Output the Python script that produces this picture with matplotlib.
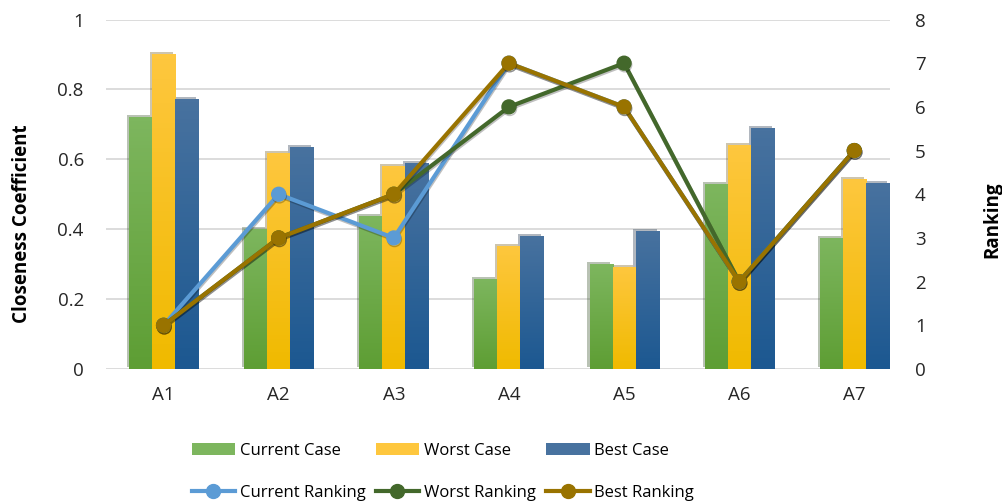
import matplotlib.pyplot as plt
import matplotlib.patheffects as pe
from matplotlib.patches import Patch
from matplotlib.lines import Line2D
import numpy as np

plt.rcParams['font.family'] = ['Open Sans', 'DejaVu Sans']

categories = ['A1', 'A2', 'A3', 'A4', 'A5', 'A6', 'A7']

current_case = [0.721, 0.400, 0.438, 0.258, 0.300, 0.529, 0.375]
worst_case = [0.901, 0.618, 0.581, 0.352, 0.292, 0.641, 0.544]
best_case = [0.773, 0.635, 0.589, 0.381, 0.395, 0.690, 0.533]

current_rank = [1, 4, 3, 7, 6, 2, 5]
worst_rank = [1, 3, 4, 6, 7, 2, 5]
best_rank = [1, 3, 4, 7, 6, 2, 5]

bar_names = ['Current Case', 'Worst Case', 'Best Case']
line_names = ['Current Ranking', 'Worst Ranking', 'Best Ranking']
bar_colors = [('#7db65e', '#5e9e34'), ('#fec73e', '#f0ba00'), ('#48729f', '#1c5891')]
line_colors = ['#5b9bd5', '#43682b', '#997300']

fig = plt.figure(figsize=(10.03, 5.04), dpi=100)
ax = fig.add_axes([106 / 1003, 135 / 504, 784 / 1003, 349.5 / 504])
ax2 = ax.twinx()

x = np.arange(len(categories))
w = 0.2
shadow = [pe.SimplePatchShadow(offset=(-1.5, 1.5), alpha=0.35, rho=0.45), pe.Normal()]

for i, vals in enumerate([current_case, worst_case, best_case]):
    top, bot = bar_colors[i]
    bars = ax.bar(x + (i - 1) * w, vals, w, color=top, zorder=2, path_effects=shadow)
    # vertical gradient in each bar
    grad = np.linspace(0, 1, 64).reshape(-1, 1)
    c1 = np.array(plt.matplotlib.colors.to_rgb(top))
    c2 = np.array(plt.matplotlib.colors.to_rgb(bot))
    img = c1[None, None, :] * (1 - grad[..., None]) + c2[None, None, :] * grad[..., None]
    for b in bars:
        im = ax.imshow(img, extent=[b.get_x(), b.get_x() + b.get_width(), 0, b.get_height()],
                       aspect='auto', zorder=2.5, origin='upper')
        im.set_clip_path(b)

ax.set_xlim(-0.5, 6.31)
ax.set_ylim(0, 1)
ax.set_yticks([0, 0.2, 0.4, 0.6, 0.8, 1])
ax.set_yticklabels(['0', '0.2', '0.4', '0.6', '0.8', '1'])
ax.set_xticks(x)
ax.set_xticklabels(categories)
ax.grid(axis='y', color='#d9d9d9', linewidth=1.3, zorder=0)
ax.set_axisbelow(True)
for s in ax.spines.values():
    s.set_visible(False)
for s in ax2.spines.values():
    s.set_visible(False)
ax.tick_params(length=0, labelsize=13.5, colors='#262626', pad=12)
ax.tick_params(axis='y', pad=16)
ax.set_ylabel('Closeness Coefficient', fontsize=13.5, fontweight='bold',
              va='center', ha='center')
ax.yaxis.set_label_coords(-0.107, 0.415)

line_shadow = [pe.SimpleLineShadow(offset=(0.5, -1.2), alpha=0.25, rho=0.5), pe.Normal()]
for vals, c in zip([current_rank, worst_rank, best_rank], line_colors):
    ax2.plot(x, vals, color=c, linewidth=3, marker='o', markersize=10,
             path_effects=line_shadow)

ax2.set_ylim(0, 8)
ax2.set_yticks(range(9))
ax2.tick_params(length=0, labelsize=13.5, colors='#262626', pad=18)
ax2.set_ylabel('Ranking', fontsize=13.5, fontweight='bold', rotation=90,
               va='center', ha='center')
ax2.yaxis.set_label_coords(1.13, 0.426)

handles = []
labels = []
for i in range(3):
    handles.append(Patch(facecolor=bar_colors[i][0]))
    labels.append(bar_names[i])
    handles.append(Line2D([], [], color=line_colors[i], linewidth=3, marker='o', markersize=10))
    labels.append(line_names[i])
fig.legend(handles, labels, ncol=3, loc='center', bbox_to_anchor=(443 / 1003, 32 / 504),
           frameon=False, fontsize=12, handlelength=2.6, handleheight=0.7,
           columnspacing=0.6, labelspacing=1.55, handletextpad=0.3)

fig.savefig('out.png', dpi=100)
